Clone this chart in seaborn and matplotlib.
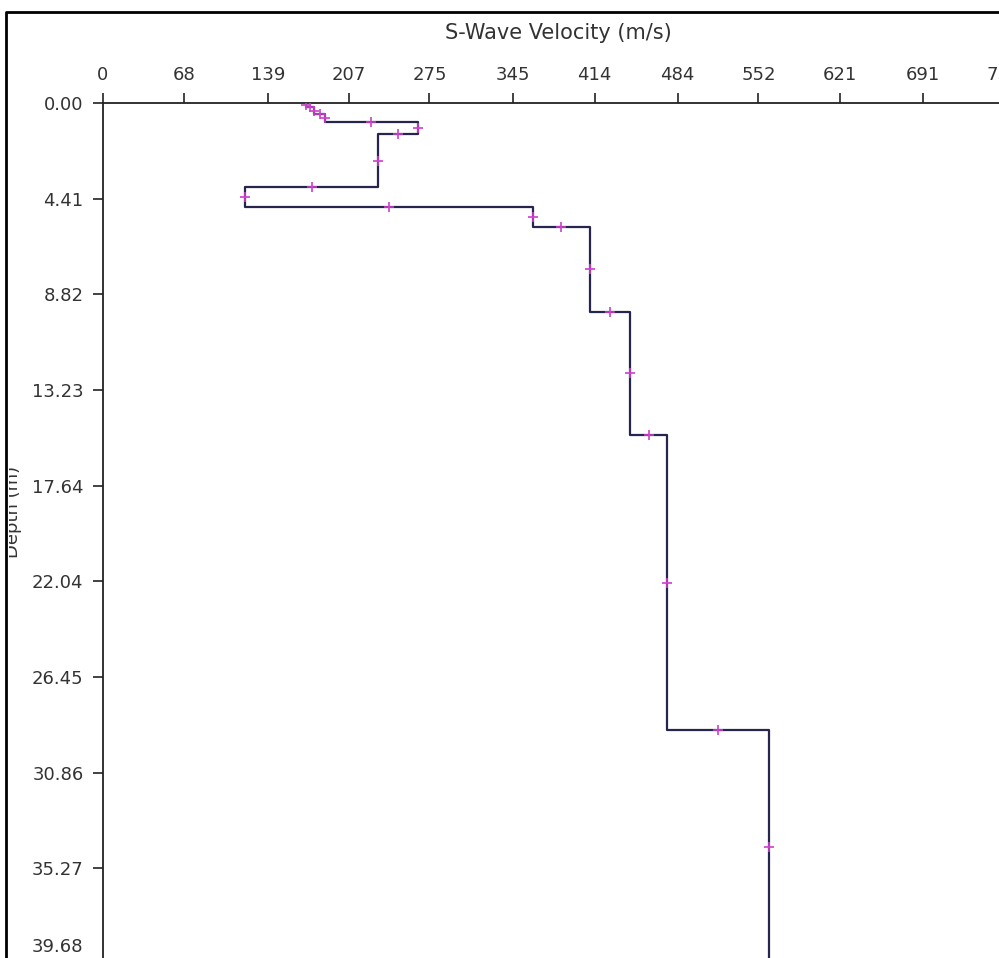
import numpy as np
import seaborn as sns
import matplotlib.pyplot as plt
import matplotlib.transforms as mtransforms
from matplotlib.patches import Rectangle
from matplotlib.lines import Line2D

# layered S-wave profile (velocity in m/s, bottom depth of each layer in m)
velocity = [171, 178, 187, 265, 232, 120, 362, 410, 444, 475, 561]
layer_bottom = [0.20, 0.50, 0.88, 1.43, 3.87, 4.79, 5.71, 9.63, 15.30, 28.90, 39.68]

x_ticks = [0, 68, 139, 207, 275, 345, 414, 484, 552, 621, 691, 759]
y_ticks = [0.00, 4.41, 8.82, 13.23, 17.64, 22.04, 26.45, 30.86, 35.27, 39.68]

sns.set_style('ticks')
plt.rcParams['font.family'] = ['DejaVu Sans']

# step line: vertical inside each layer, horizontal at each interface
xs = np.repeat(velocity, 2).astype(float)
ys = np.concatenate([[0.0], np.repeat(layer_bottom, 2)[:-1]])
# markers at the middle of every segment
mx = (xs[:-1] + xs[1:]) / 2
my = (ys[:-1] + ys[1:]) / 2

W, H = 999, 958
fig = plt.figure(figsize=(W / 100, H / 100), dpi=100)
ax = fig.add_axes([103 / W, 1 - 964 / H, 983 / W, (964 - 103) / H])

sns.lineplot(x=xs, y=ys, sort=False, estimator=None, color='#25254d', lw=1.6, ax=ax)
sns.scatterplot(x=mx, y=my, marker='+', s=60, color='#cc3fcc', linewidth=1.2, ax=ax, zorder=3)

ax.set_xlim(0, 828)
ax.set_ylim(39.68, 0)
ax.set_xlabel('')
ax.set_ylabel('')

for s in ['bottom', 'right']:
    ax.spines[s].set_visible(False)
for s in ['top', 'left']:
    ax.spines[s].set_linewidth(1.3)
    ax.spines[s].set_color('#222222')

ax.xaxis.tick_top()
ax.set_xticks(x_ticks)
ax.set_xticklabels([str(t) for t in x_ticks])
ax.set_yticks(y_ticks)
ax.set_yticklabels(['%.2f' % t for t in y_ticks])
ax.tick_params(axis='x', direction='out', length=7, width=1.2, pad=7,
               labelsize=13, colors='#222222', labelcolor='#333333')
ax.tick_params(axis='y', direction='out', length=7, width=1.2, pad=7,
               labelsize=13, colors='#222222', labelcolor='#333333')

# last depth label sits inside the visible area
lab = ax.get_yticklabels()[-1]
lab.set_transform(lab.get_transform() + mtransforms.ScaledTranslation(0, 0.19, fig.dpi_scale_trans))

fig.text(558 / W, 1 - 33 / H, 'S-Wave Velocity (m/s)', ha='center', va='center',
         fontsize=15, color='#333333')
fig.text(13 / W, 1 - 512 / H, 'Depth (m)', ha='center', va='center', rotation=90,
         fontsize=13, color='#333333')

# outer frame, label clipped on its left edge
fig.add_artist(Rectangle((0, 0), 9 / W, 1, transform=fig.transFigure,
                         fc='white', ec='none', zorder=20))
fig.add_artist(Line2D([6 / W, 6 / W, 1], [0, 1 - 12 / H, 1 - 12 / H],
                      transform=fig.transFigure, color='black', lw=2, zorder=21))

fig.savefig('out.png', dpi=100)
